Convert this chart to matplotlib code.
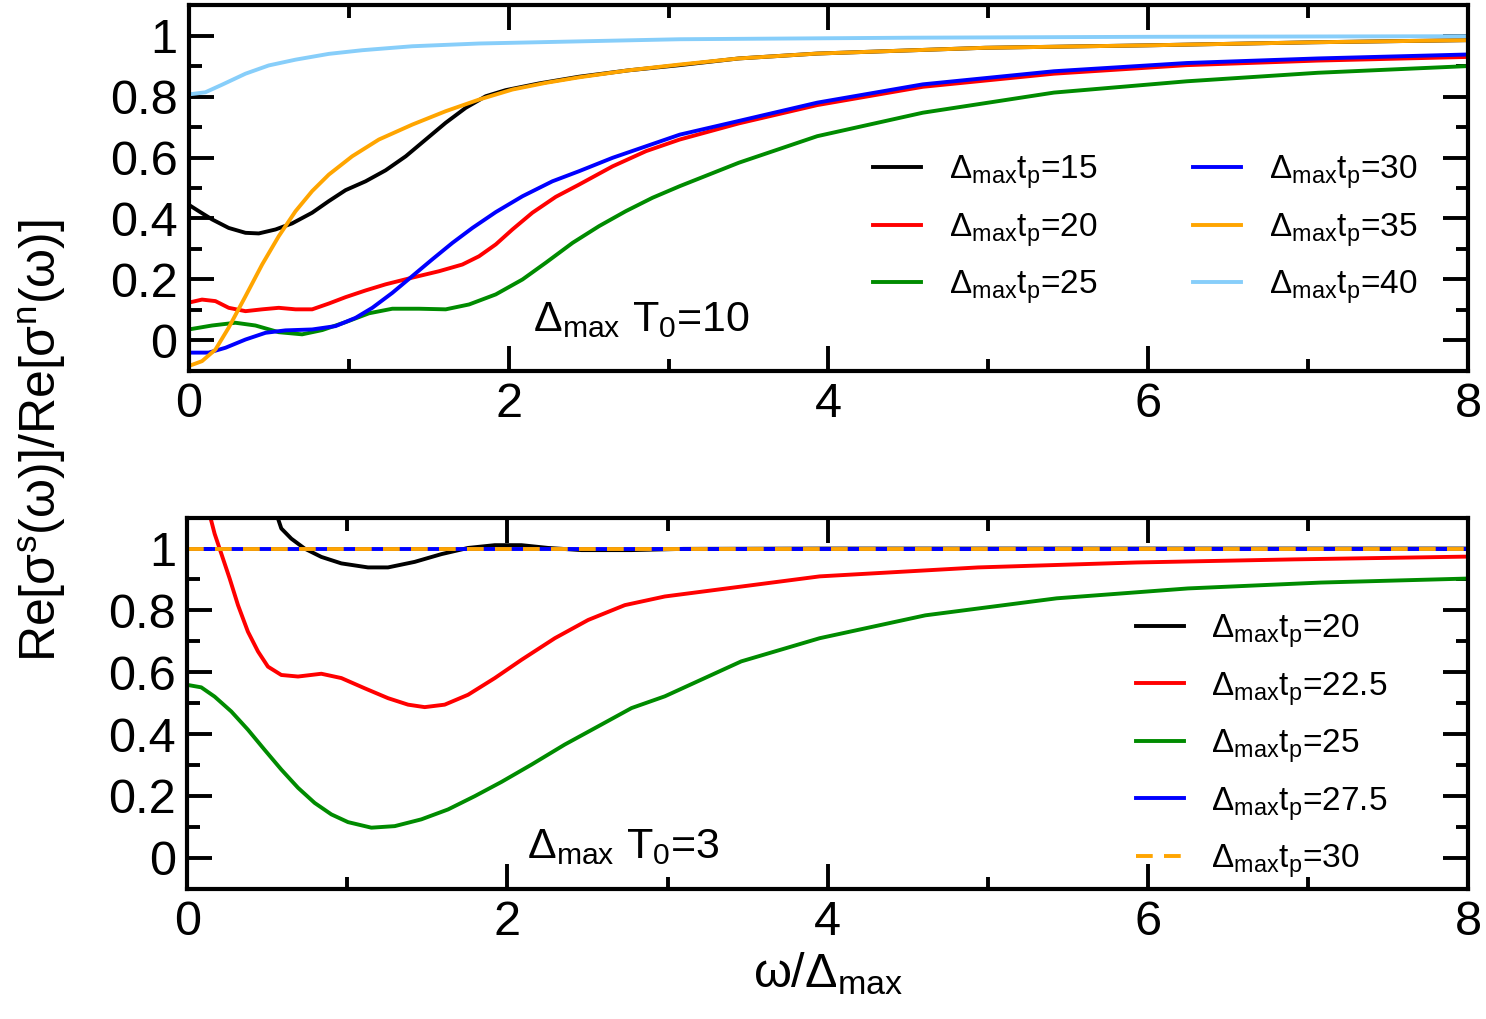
import numpy as np
import matplotlib
matplotlib.use("Agg")
import matplotlib.pyplot as plt
from matplotlib.ticker import MultipleLocator, FuncFormatter

plt.rcParams['font.family'] = ['Liberation Sans', 'DejaVu Sans']
plt.rcParams['mathtext.fontset'] = 'custom'
plt.rcParams['mathtext.rm'] = 'Liberation Sans'
plt.rcParams['mathtext.it'] = 'Liberation Sans:italic'
plt.rcParams['mathtext.bf'] = 'Liberation Sans:bold'

# ---- top panel, Delta_max T0 = 10 ----
x15 = [0, 0.063, 0.146, 0.25, 0.355, 0.438, 0.543, 0.647, 0.772, 0.876, 0.981, 1.106, 1.231, 1.357,
       1.482, 1.607, 1.732, 1.857, 1.982, 2.19, 2.44, 2.75, 3.07, 3.44, 3.93, 4.98, 6.0, 7.03, 8.0]
y15 = [0.445, 0.424, 0.397, 0.369, 0.353, 0.351, 0.364, 0.384, 0.419, 0.457, 0.493, 0.522, 0.558, 0.604,
       0.659, 0.714, 0.763, 0.801, 0.821, 0.843, 0.865, 0.886, 0.903, 0.925, 0.941, 0.960, 0.968, 0.978, 0.985]

x20 = [0, 0.083, 0.167, 0.25, 0.355, 0.459, 0.563, 0.668, 0.772, 0.876, 0.981, 1.106, 1.231, 1.398, 1.565,
       1.711, 1.815, 1.92, 2.024, 2.149, 2.295, 2.44, 2.65, 2.86, 3.07, 3.44, 3.93, 4.59, 5.41, 6.24, 7.06, 8.0]
y20 = [0.124, 0.134, 0.129, 0.107, 0.096, 0.102, 0.107, 0.102, 0.102, 0.121, 0.142, 0.164, 0.184, 0.206, 0.227,
       0.249, 0.276, 0.315, 0.364, 0.419, 0.471, 0.511, 0.571, 0.621, 0.659, 0.712, 0.772, 0.832, 0.875, 0.903, 0.918, 0.930]

x25 = [0, 0.146, 0.292, 0.417, 0.563, 0.709, 0.835, 0.981, 1.127, 1.273, 1.44, 1.607, 1.753, 1.92, 2.087,
       2.233, 2.4, 2.566, 2.733, 2.9, 3.07, 3.44, 3.93, 4.59, 5.41, 6.24, 7.06, 8.0]
y25 = [0.036, 0.049, 0.058, 0.049, 0.027, 0.02, 0.034, 0.06, 0.089, 0.104, 0.104, 0.102, 0.118, 0.151, 0.2,
       0.255, 0.32, 0.375, 0.424, 0.468, 0.506, 0.583, 0.67, 0.747, 0.813, 0.85, 0.878, 0.90]

x30 = [0, 0.125, 0.23, 0.355, 0.48, 0.605, 0.772, 0.918, 1.043, 1.148, 1.273, 1.398, 1.523, 1.649, 1.774,
       1.92, 2.087, 2.274, 2.44, 2.65, 2.86, 3.07, 3.44, 3.93, 4.59, 5.41, 6.24, 7.06, 8.0]
y30 = [-0.04, -0.04, -0.024, 0.003, 0.025, 0.033, 0.036, 0.047, 0.074, 0.107, 0.156, 0.211, 0.266, 0.32, 0.369,
       0.421, 0.473, 0.522, 0.555, 0.599, 0.637, 0.675, 0.72, 0.78, 0.84, 0.883, 0.91, 0.925, 0.938]

x35 = [0, 0.083, 0.167, 0.25, 0.355, 0.459, 0.563, 0.668, 0.772, 0.876, 1.022, 1.189, 1.398, 1.607, 1.815,
       2.024, 2.233, 2.44, 2.75, 3.07, 3.44, 3.93, 4.98, 6.0, 7.03, 8.0]
y35 = [-0.084, -0.068, -0.03, 0.042, 0.145, 0.249, 0.342, 0.424, 0.49, 0.544, 0.604, 0.659, 0.708, 0.752, 0.79,
       0.823, 0.845, 0.863, 0.886, 0.905, 0.925, 0.941, 0.960, 0.968, 0.978, 0.985]

x40 = [0, 0.104, 0.209, 0.355, 0.5, 0.668, 0.876, 1.085, 1.398, 1.815, 2.44, 3.07, 4.5, 6.0, 8.0]
y40 = [0.807, 0.814, 0.839, 0.875, 0.902, 0.921, 0.94, 0.952, 0.965, 0.974, 0.981, 0.988, 0.993, 0.996, 0.998]

# ---- bottom panel, Delta_max T0 = 3 ----
xb20 = [0.50, 0.5875, 0.65, 0.733, 0.8375, 0.9625, 1.129, 1.254, 1.421, 1.5875, 1.754, 1.921, 2.0875,
        2.254, 2.4625, 2.775, 3.1, 4.0, 6.0, 8.0]
yb20 = [1.20, 1.065, 1.032, 1.0, 0.973, 0.952, 0.939, 0.939, 0.957, 0.982, 1.002, 1.011, 1.011,
        1.002, 0.995, 0.995, 0.999, 1.0, 1.0, 1.0]

xb225 = [0.12, 0.171, 0.2125, 0.265, 0.317, 0.379, 0.442, 0.504, 0.5875, 0.692, 0.8375, 0.9625, 1.108, 1.254,
         1.379, 1.483, 1.608, 1.754, 1.921, 2.0875, 2.296, 2.504, 2.733, 2.983, 3.95, 4.94, 5.93, 6.91, 8.0]
yb225 = [1.15, 1.048, 0.984, 0.903, 0.817, 0.731, 0.667, 0.618, 0.591, 0.586, 0.595, 0.581, 0.548, 0.516,
         0.495, 0.487, 0.495, 0.527, 0.581, 0.64, 0.71, 0.769, 0.817, 0.845, 0.91, 0.939, 0.955, 0.965, 0.974]

xb25 = [0, 0.0875, 0.171, 0.275, 0.379, 0.483, 0.5875, 0.692, 0.796, 0.9, 1.004, 1.15, 1.296, 1.4625, 1.629,
        1.796, 1.9625, 2.15, 2.358, 2.567, 2.775, 2.983, 3.46, 3.95, 4.61, 5.43, 6.25, 7.08, 8.0]
yb25 = [0.559, 0.551, 0.521, 0.473, 0.414, 0.349, 0.285, 0.226, 0.177, 0.14, 0.115, 0.097, 0.102, 0.124, 0.156,
        0.199, 0.245, 0.301, 0.366, 0.425, 0.484, 0.522, 0.635, 0.71, 0.784, 0.839, 0.871, 0.89, 0.903]

xb275 = [0, 2, 4, 6, 8]
yb275 = [1.0, 1.0, 1.0, 1.0, 1.0]
xb30 = [0, 2, 4, 6, 8]
yb30 = [1.0, 1.0, 1.0, 1.0, 1.0]

top_labels = ['15', '20', '25', '30', '35', '40']
bot_labels = ['20', '22.5', '25', '27.5', '30']
colors_top = ['black', '#ff0000', '#008b00', '#0000ff', '#ffa500', '#87cefa']
colors_bot = ['black', '#ff0000', '#008b00', '#0000ff', '#ffa500']

LW = 2.8
fig = plt.figure(figsize=(14.86, 10.19), dpi=100)
ax1 = fig.add_axes([0.127, 0.636, 0.861, 0.359])
ax2 = fig.add_axes([0.126, 0.128, 0.862, 0.364])


def lab(v):
    return r'$\mathrm{\Delta_{max}t_p}$=' + v


top_data = [(x15, y15), (x20, y20), (x25, y25), (x30, y30), (x35, y35), (x40, y40)]
for (xx, yy), c, l in zip(top_data, colors_top, top_labels):
    ax1.plot(xx, yy, color=c, lw=LW, label=lab(l))

bot_data = [(xb20, yb20), (xb225, yb225), (xb25, yb25), (xb275, yb275)]
for (xx, yy), c, l in zip(bot_data, colors_bot, bot_labels):
    ax2.plot(xx, yy, color=c, lw=LW, label=lab(l))
ax2.plot(xb30, yb30, color=colors_bot[4], lw=LW, ls=(0, (4.3, 2.9)), label=lab(bot_labels[4]))

fmt = FuncFormatter(lambda v, p: f'{v:g}')
for ax in (ax1, ax2):
    ax.set_xlim(0, 8)
    ax.set_ylim(-0.1, 1.1)
    ax.xaxis.set_major_locator(MultipleLocator(2))
    ax.xaxis.set_minor_locator(MultipleLocator(1))
    ax.yaxis.set_major_locator(MultipleLocator(0.2))
    ax.yaxis.set_minor_locator(MultipleLocator(0.1))
    ax.yaxis.set_major_formatter(fmt)
    ax.xaxis.set_major_formatter(fmt)
    ax.tick_params(which='both', direction='in', top=True, right=True, width=2.8, labelsize=35)
    ax.tick_params(which='major', length=18)
    ax.tick_params(which='minor', length=9)
    ax.tick_params(axis='x', pad=8)
    ax.tick_params(axis='y', pad=8)
    for s in ax.spines.values():
        s.set_linewidth(3)

ax1.legend(loc='upper left', bbox_to_anchor=(0.511, 0.675), ncol=2, frameon=False, fontsize=24,
           handlelength=1.45, handletextpad=0.85, columnspacing=2.85, labelspacing=0.6)
ax2.legend(loc='upper left', bbox_to_anchor=(0.717, 0.825), ncol=1, frameon=False, fontsize=24,
           handlelength=1.45, handletextpad=0.8, labelspacing=0.6)

ax1.text(2.15, 0.03, r'$\mathrm{\Delta_{max}\ T_0}$=10', fontsize=31)
ax2.text(2.12, 0.0, r'$\mathrm{\Delta_{max}\ T_0}$=3', fontsize=31)

fig.text(0.028, 0.568, r'$\mathrm{Re[\sigma^s(\omega)]/Re[\sigma^n(\omega)]}$', rotation=90,
         fontsize=36, ha='center', va='center')
fig.text(0.557, 0.044, r'$\mathrm{\omega/\Delta_{max}}$', fontsize=35, ha='center', va='center')

fig.savefig('out.png', dpi=100)
